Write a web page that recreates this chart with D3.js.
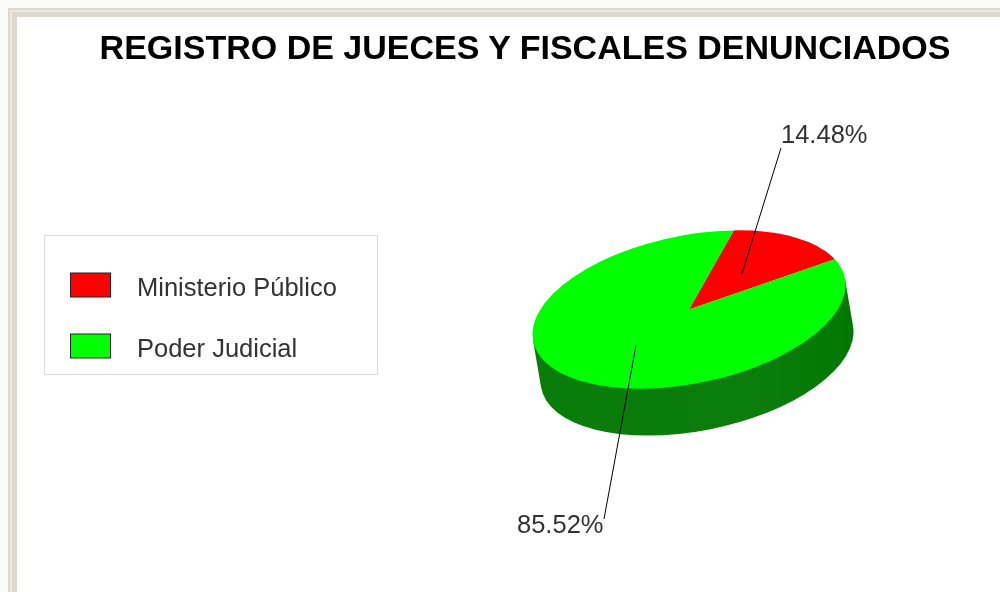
<!DOCTYPE html>
<html lang="es">
<head>
<meta charset="utf-8">
<title>Registro de jueces y fiscales denunciados</title>
<script src="https://cdn.jsdelivr.net/npm/d3@7"></script>
<style>
    html, body { margin: 0; padding: 0; background: #fff; }
    svg { display: block; }
    text { font-family: "Liberation Sans", Arial, sans-serif; }
</style>
</head>
<body>
<div id="chart"></div>
<script>
// Data
const categories = ['Ministerio Público', 'Poder Judicial'];
const shares = [14.48, 85.52];
const sliceColors = ['#ff0000', '#00ff00'];
const titleText = 'REGISTRO DE JUECES Y FISCALES DENUNCIADOS';

const width = 1000;
const height = 592;

const svg = d3.select('#chart').append('svg')
    .attr('width', width)
    .attr('height', height)
    .attr('viewBox', `0 0 ${width} ${height}`)
    .style('filter', 'blur(0.45px)');

// Page frame around the chart
svg.append('rect').attr('width', width).attr('height', height).attr('fill', '#fbfbf8');
svg.append('rect').attr('x', 8).attr('y', 8).attr('width', 992).attr('height', 584).attr('fill', '#dcd8d0');
svg.append('rect').attr('x', 10).attr('y', 10).attr('width', 990).attr('height', 582).attr('fill', '#ebe9e3');
svg.append('rect').attr('x', 12).attr('y', 12).attr('width', 988).attr('height', 580).attr('fill', '#dcd8d0');
svg.append('rect').attr('x', 17).attr('y', 17).attr('width', 983).attr('height', 575).attr('fill', '#fff');

svg.append('text')
    .attr('x', 525)
    .attr('y', 59)
    .attr('text-anchor', 'middle')
    .attr('font-size', 34)
    .attr('font-weight', 'bold')
    .attr('fill', '#000')
    .text(titleText);

// Legend
const legend = svg.append('g');
legend.append('rect')
    .attr('x', 44.5).attr('y', 235.5)
    .attr('width', 333).attr('height', 139)
    .attr('fill', '#fff')
    .attr('stroke', '#d9d9d9');

const legendY = d3.scalePoint().domain(categories).range([285, 346]);
const rows = legend.selectAll('g')
    .data(categories)
    .join('g')
    .attr('transform', d => `translate(0, ${legendY(d)})`);
rows.append('rect')
    .attr('x', 70.5).attr('y', -12)
    .attr('width', 40).attr('height', 24)
    .attr('fill', (d, i) => sliceColors[i])
    .attr('stroke', '#222');
rows.append('text')
    .attr('x', 137).attr('y', 11)
    .attr('font-size', 25.5)
    .attr('fill', '#333')
    .text(d => d);

// Tilted 3D pie
const center = { x: 689, y: 309.5 };
const rx = 159;
const ry = 74;
const tilt = -11.5;
const depth = { x: 8, y: 47 };
const tiltRad = tilt * Math.PI / 180;

function ellipsePoint(t, k = 1) {
    const u = rx * k * Math.cos(t);
    const v = ry * k * Math.sin(t);
    return [
        center.x + u * Math.cos(tiltRad) - v * Math.sin(tiltRad),
        center.y + u * Math.sin(tiltRad) + v * Math.cos(tiltRad),
    ];
}

// side wall runs between the two points where the rim is parallel to the depth vector
const localX = depth.x * Math.cos(tiltRad) + depth.y * Math.sin(tiltRad);
const localY = -depth.x * Math.sin(tiltRad) + depth.y * Math.cos(tiltRad);
const tangent = Math.atan2(localX / rx, -localY / ry);
const [p0x, p0y] = ellipsePoint(tangent);
const [p1x, p1y] = ellipsePoint(tangent + Math.PI);

const sideGrad = svg.append('defs').append('linearGradient')
    .attr('id', 'side')
    .attr('x1', 0).attr('x2', 1).attr('y1', 0).attr('y2', 0);
sideGrad.append('stop').attr('offset', '0%').attr('stop-color', '#0a7c0a');
sideGrad.append('stop').attr('offset', '70%').attr('stop-color', '#0b7d0b');
sideGrad.append('stop').attr('offset', '100%').attr('stop-color', '#007800');

const sidePath = d3.path();
sidePath.moveTo(p0x, p0y);
sidePath.lineTo(p0x + depth.x, p0y + depth.y);
const side = `${sidePath}A${rx},${ry} ${tilt} 0 0 ${p1x + depth.x},${p1y + depth.y}L${p1x},${p1y}Z`;
svg.append('path').attr('d', side).attr('fill', 'url(#side)');

const pie = d3.pie().sort(null).startAngle(22 * Math.PI / 180).endAngle((360 + 22) * Math.PI / 180);
const arcs = pie(shares);
const arc = d3.arc().innerRadius(0).outerRadius(1);

svg.append('g')
    .attr('transform', `translate(${center.x},${center.y}) rotate(${tilt}) scale(${rx},${ry})`)
    .selectAll('path')
    .data(arcs)
    .join('path')
    .attr('d', arc)
    .attr('fill', (d, i) => sliceColors[i]);

// Leader lines start half way out along each slice's middle angle
const labelEnds = [[781, 148], [604, 519]];
const labelPos = [[781, 143], [517, 533]];
arcs.forEach((d, i) => {
    const mid = (d.startAngle + d.endAngle) / 2 - Math.PI / 2;
    const [ax, ay] = ellipsePoint(mid, 0.5);
    svg.append('line')
        .attr('x1', ax).attr('y1', ay)
        .attr('x2', labelEnds[i][0]).attr('y2', labelEnds[i][1])
        .attr('stroke', '#000')
        .attr('stroke-width', 1);
    svg.append('text')
        .attr('x', labelPos[i][0]).attr('y', labelPos[i][1])
        .attr('font-size', 25.5)
        .attr('fill', '#333')
        .text(`${shares[i].toFixed(2)}%`);
});
</script>
</body>
</html>
